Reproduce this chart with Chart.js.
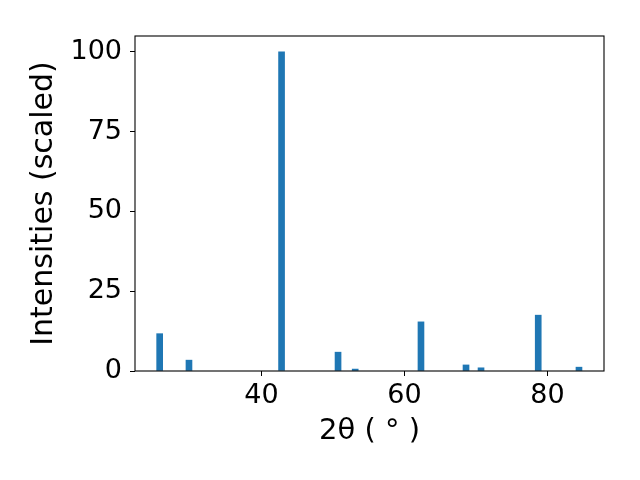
<!DOCTYPE html>
<html>
<head>
<meta charset="utf-8">
<script src="https://cdn.jsdelivr.net/npm/chart.js@4"></script>
<style>
  html, body { margin: 0; padding: 0; background: #fff; }
  #wrap { width: 640px; height: 480px; }
</style>
</head>
<body>
<div id="wrap"><canvas id="xrd"></canvas></div>
<script>
// Peak positions (2theta, degrees) and scaled intensities
const twoTheta = [25.75, 29.85, 42.8, 50.7, 53.1, 62.3, 68.6, 70.7, 78.7, 84.4];
const intensity = [11.7, 3.4, 100, 5.9, 0.6, 15.4, 1.9, 1.0, 17.5, 1.2];
const xTicks = [40, 60, 80];
const yTicks = [0, 25, 50, 75, 100];

const FONT = "'DejaVu Sans', sans-serif";

//Marco completo alrededor del area
const boxPlugin = {
    id: "box",
    afterDraw(chart) {
        const a = chart.chartArea;
        const ctx = chart.ctx;
        ctx.save();
        ctx.strokeStyle = "#000";
        ctx.lineWidth = 1.1;
        ctx.strokeRect(a.left, a.top, a.right - a.left, a.bottom - a.top);
        ctx.restore();
    }
};

new Chart(document.getElementById("xrd"), {
    type: "bar",
    data: {
        datasets: [{
            data: twoTheta.map((x, i) => ({ x: x, y: intensity[i] })),
            backgroundColor: "#1f77b4",
            borderWidth: 0,
            barThickness: 6
        }]
    },
    options: {
        responsive: true,
        maintainAspectRatio: false,
        animation: false,
        layout: { padding: { top: 36, right: 36, left: 0, bottom: 0 } },
        plugins: { legend: { display: false }, tooltip: { enabled: false } },
        scales: {
            x: {
                type: "linear",
                offset: false,
                min: 22.3,
                max: 87.9,
                afterBuildTicks: s => { s.ticks = xTicks.map(v => ({ value: v })); },
                afterFit: s => { s.height = 109; },
                grid: { offset: false, drawOnChartArea: false, drawTicks: true, tickLength: 5, color: "#000" },
                border: { display: false },
                ticks: { color: "#000", font: { family: FONT, size: 27 }, padding: 4, maxRotation: 0, autoSkip: false },
                title: {
                    display: true,
                    text: "2θ ( ° )",
                    color: "#000",
                    font: { family: FONT, size: 29 },
                    padding: { top: 0, bottom: 31 }
                }
            },
            y: {
                min: 0,
                max: 105,
                afterBuildTicks: s => { s.ticks = yTicks.map(v => ({ value: v })); },
                afterFit: s => { s.width = 135; },
                grid: { drawOnChartArea: false, drawTicks: true, tickLength: 5, color: "#000" },
                border: { display: false },
                ticks: { color: "#000", font: { family: FONT, size: 27 }, padding: 8 },
                title: {
                    display: true,
                    text: "Intensities (scaled)",
                    color: "#000",
                    font: { family: FONT, size: 30 },
                    padding: { top: 26, bottom: 0 }
                }
            }
        }
    },
    plugins: [boxPlugin]
});
</script>
</body>
</html>
